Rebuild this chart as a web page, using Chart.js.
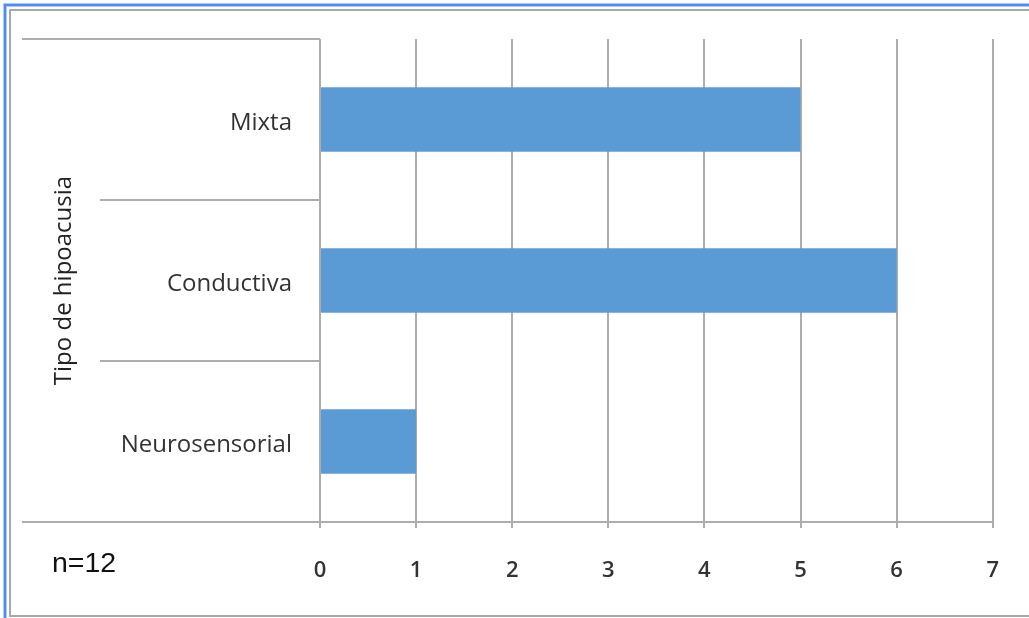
<!DOCTYPE html>
<html>
<head>
<meta charset="utf-8">
<script src="https://cdn.jsdelivr.net/npm/chart.js@4/dist/chart.umd.min.js"></script>
<style>
  html, body { margin: 0; padding: 0; background: #fff; overflow: hidden; }
  #wrap { position: relative; width: 1029px; height: 618px; }
  #frameBlue {
    position: absolute; left: 4px; top: 4px; width: 1100px; height: 700px;
    border-top: 2px solid #4a8df6; border-left: 2px solid #4a8df6;
    box-shadow: inset 1px 1px 0 #a9c8fb, -1px -1px 0 #a9c8fb; pointer-events: none;
  }
  #frameGray {
    position: absolute; left: 9px; top: 9px; width: 1100px; height: 608px; box-sizing: border-box;
    border-top: 2px solid #a8a8a8; border-left: 2px solid #a8a8a8; border-bottom: 2px solid #a8a8a8;
    pointer-events: none;
  }
</style>
</head>
<body>
<div id="wrap">
  <canvas id="chart"></canvas>
  <div id="frameBlue"></div>
  <div id="frameGray"></div>
</div>
<script>
// Tipos de hipoacusia (número de pacientes)
const categories = ['Mixta', 'Conductiva', 'Neurosensorial'];
const counts = [5, 6, 1];
const xMin = 0;
const xMax = 7;
const axisTitle = 'Tipo de hipoacusia';
const sampleNote = 'n=12';

const barColor = '#5b9bd5';
const lineGray = '#adadad';

// lines between the category labels, left of the plot
const categoryDividers = {
  id: 'categoryDividers',
  afterDraw(chart) {
    const ctx = chart.ctx;
    const y = chart.scales.y;
    const left = chart.chartArea.left;
    ctx.save();
    ctx.strokeStyle = lineGray;
    ctx.lineWidth = 2;
    for (let i = 0; i <= categories.length; i++) {
      const py = Math.round(y.getPixelForValue(i - 0.5));
      const outer = i === 0 || i === categories.length;
      ctx.beginPath();
      ctx.moveTo(outer ? left - 298 : left - 220, py);
      ctx.lineTo(left, py);
      ctx.stroke();
    }
    ctx.font = '28.5px "Liberation Sans", Arial, sans-serif';
    ctx.fillStyle = '#111';
    ctx.textBaseline = 'alphabetic';
    ctx.fillText(sampleNote, 52, 572);
    ctx.restore();
  }
};

new Chart(document.getElementById('chart'), {
  type: 'bar',
  data: {
    labels: categories,
    datasets: [{
      data: counts,
      backgroundColor: barColor,
      borderWidth: 0,
      categoryPercentage: 1,
      barPercentage: 0.4
    }]
  },
  options: {
    indexAxis: 'y',
    responsive: true,
    maintainAspectRatio: false,
    animation: false,
    layout: { padding: { left: 0, top: 39, right: 36, bottom: 0 } },
    plugins: {
      legend: { display: false },
      tooltip: { enabled: false }
    },
    scales: {
      x: {
        min: xMin,
        max: xMax,
        ticks: {
          stepSize: 1,
          maxRotation: 0,
          padding: 30,
          color: '#333',
          font: { family: '"Open Sans"', size: 22, weight: '600' }
        },
        grid: { color: lineGray, lineWidth: 2, tickLength: 6, drawTicks: true },
        border: { color: lineGray, width: 2 },
        afterFit(scale) { scale.height = 96; }
      },
      y: {
        grid: { display: false, drawTicks: false },
        border: { display: false },
        ticks: {
          padding: 28,
          labelOffset: 4,
          color: '#333',
          font: { family: '"Open Sans"', size: 24 }
        },
        title: {
          display: true,
          text: axisTitle,
          color: '#222',
          padding: { top: 50 },
          font: { family: '"Open Sans"', size: 24 }
        },
        afterFit(scale) {
          scale.width = 320;
          // label padding should not push the plot down
          scale.paddingTop = 0;
          scale.paddingBottom = 0;
        }
      }
    }
  },
  plugins: [categoryDividers]
});
</script>
</body>
</html>
